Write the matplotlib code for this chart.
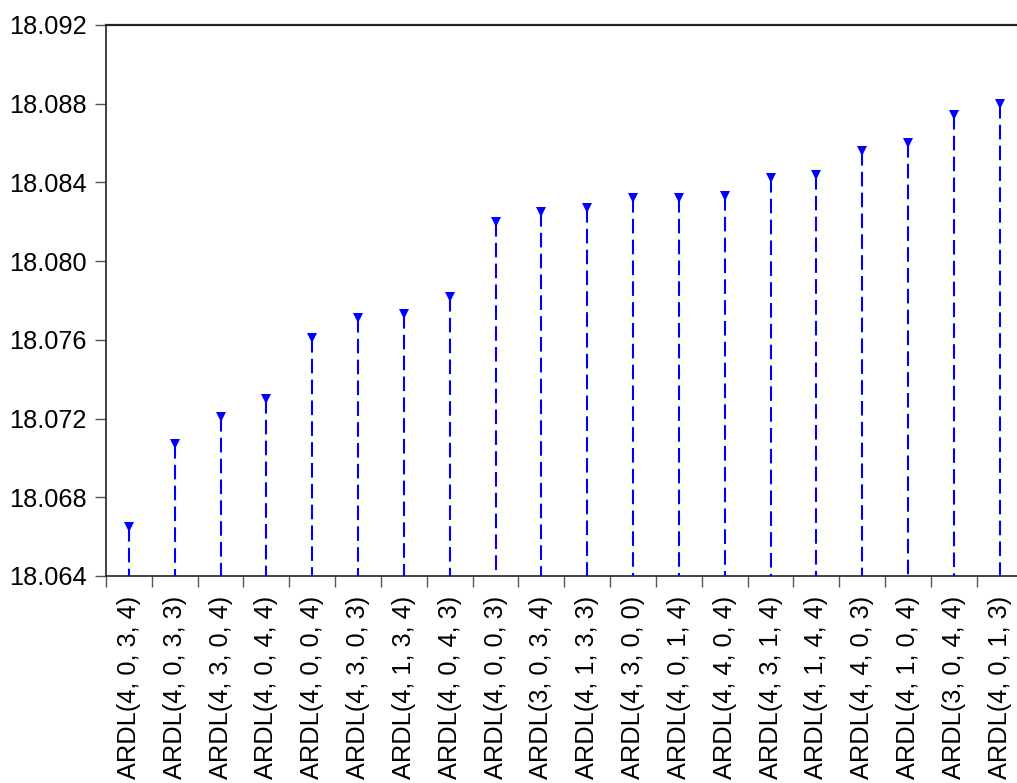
import matplotlib
matplotlib.use("Agg")
import matplotlib.pyplot as plt
import numpy as np

# ── data ────────────────────────────────────────────────────────────────
models = [
    "ARDL(4, 0, 3, 4)", "ARDL(4, 0, 3, 3)", "ARDL(4, 3, 0, 4)", "ARDL(4, 0, 4, 4)",
    "ARDL(4, 0, 0, 4)", "ARDL(4, 3, 0, 3)", "ARDL(4, 1, 3, 4)", "ARDL(4, 0, 4, 3)",
    "ARDL(4, 0, 0, 3)", "ARDL(3, 0, 3, 4)", "ARDL(4, 1, 3, 3)", "ARDL(4, 3, 0, 0)",
    "ARDL(4, 0, 1, 4)", "ARDL(4, 4, 0, 4)", "ARDL(4, 3, 1, 4)", "ARDL(4, 1, 4, 4)",
    "ARDL(4, 4, 0, 3)", "ARDL(4, 1, 0, 4)", "ARDL(3, 0, 4, 4)", "ARDL(4, 0, 1, 3)",
]
criterion = [
    18.0665, 18.0707, 18.0721, 18.0730, 18.0761, 18.0771, 18.0773, 18.0782,
    18.0820, 18.0825, 18.0827, 18.0832, 18.0832, 18.0833, 18.0842, 18.0844,
    18.0856, 18.0860, 18.0874, 18.0880,
]
y_ticks = [18.064, 18.068, 18.072, 18.076, 18.080, 18.084, 18.088, 18.092]
BASE = 18.064

# ── style ───────────────────────────────────────────────────────────────
plt.rcParams.update({
    "font.family": ["Liberation Sans", "DejaVu Sans"],
    "font.size": 18.3,
    "lines.scale_dashes": False,
})
BLUE = "#0000FF"
TICK = "#555555"

fig = plt.figure(figsize=(10.17, 7.83), dpi=100)
ax = fig.add_axes([0.1042, 0.2644, 0.9013, 0.7037])

x = np.arange(len(models))
for xi, v in zip(x, criterion):
    # stem drawn from the value down to the base, dashed
    ax.plot([xi, xi], [v, BASE], color=BLUE, lw=1.5,
            linestyle=(0, (10.5, 4.5)), dash_capstyle="butt", zorder=3)
ax.plot(x, criterion, linestyle="none", marker="v", markersize=7,
        color=BLUE, markeredgewidth=0, zorder=4)

ax.set_xlim(-0.5, len(models) - 0.5)
ax.set_ylim(BASE, 18.092)
ax.set_yticks(y_ticks)
ax.set_yticklabels([f"{t:.3f}" for t in y_ticks])

ax.set_xticks(x)
ax.set_xticklabels(models, rotation=90, va="top", ha="center")
ax.set_xticks(np.arange(len(models) + 1) - 0.5, minor=True)

ax.tick_params(axis="x", which="major", length=0, pad=14)
ax.tick_params(axis="x", which="minor", length=8, width=1, color=TICK,
               direction="out")
ax.tick_params(axis="y", which="major", length=8, width=1, color=TICK,
               direction="out", pad=6)

ax.spines["right"].set_visible(False)
ax.spines["left"].set_linewidth(1.2)
ax.spines["bottom"].set_linewidth(1.2)
ax.spines["top"].set_linewidth(1.6)
for s in ("left", "bottom", "top"):
    ax.spines[s].set_color("#222222")

fig.savefig("out.png", dpi=100)
